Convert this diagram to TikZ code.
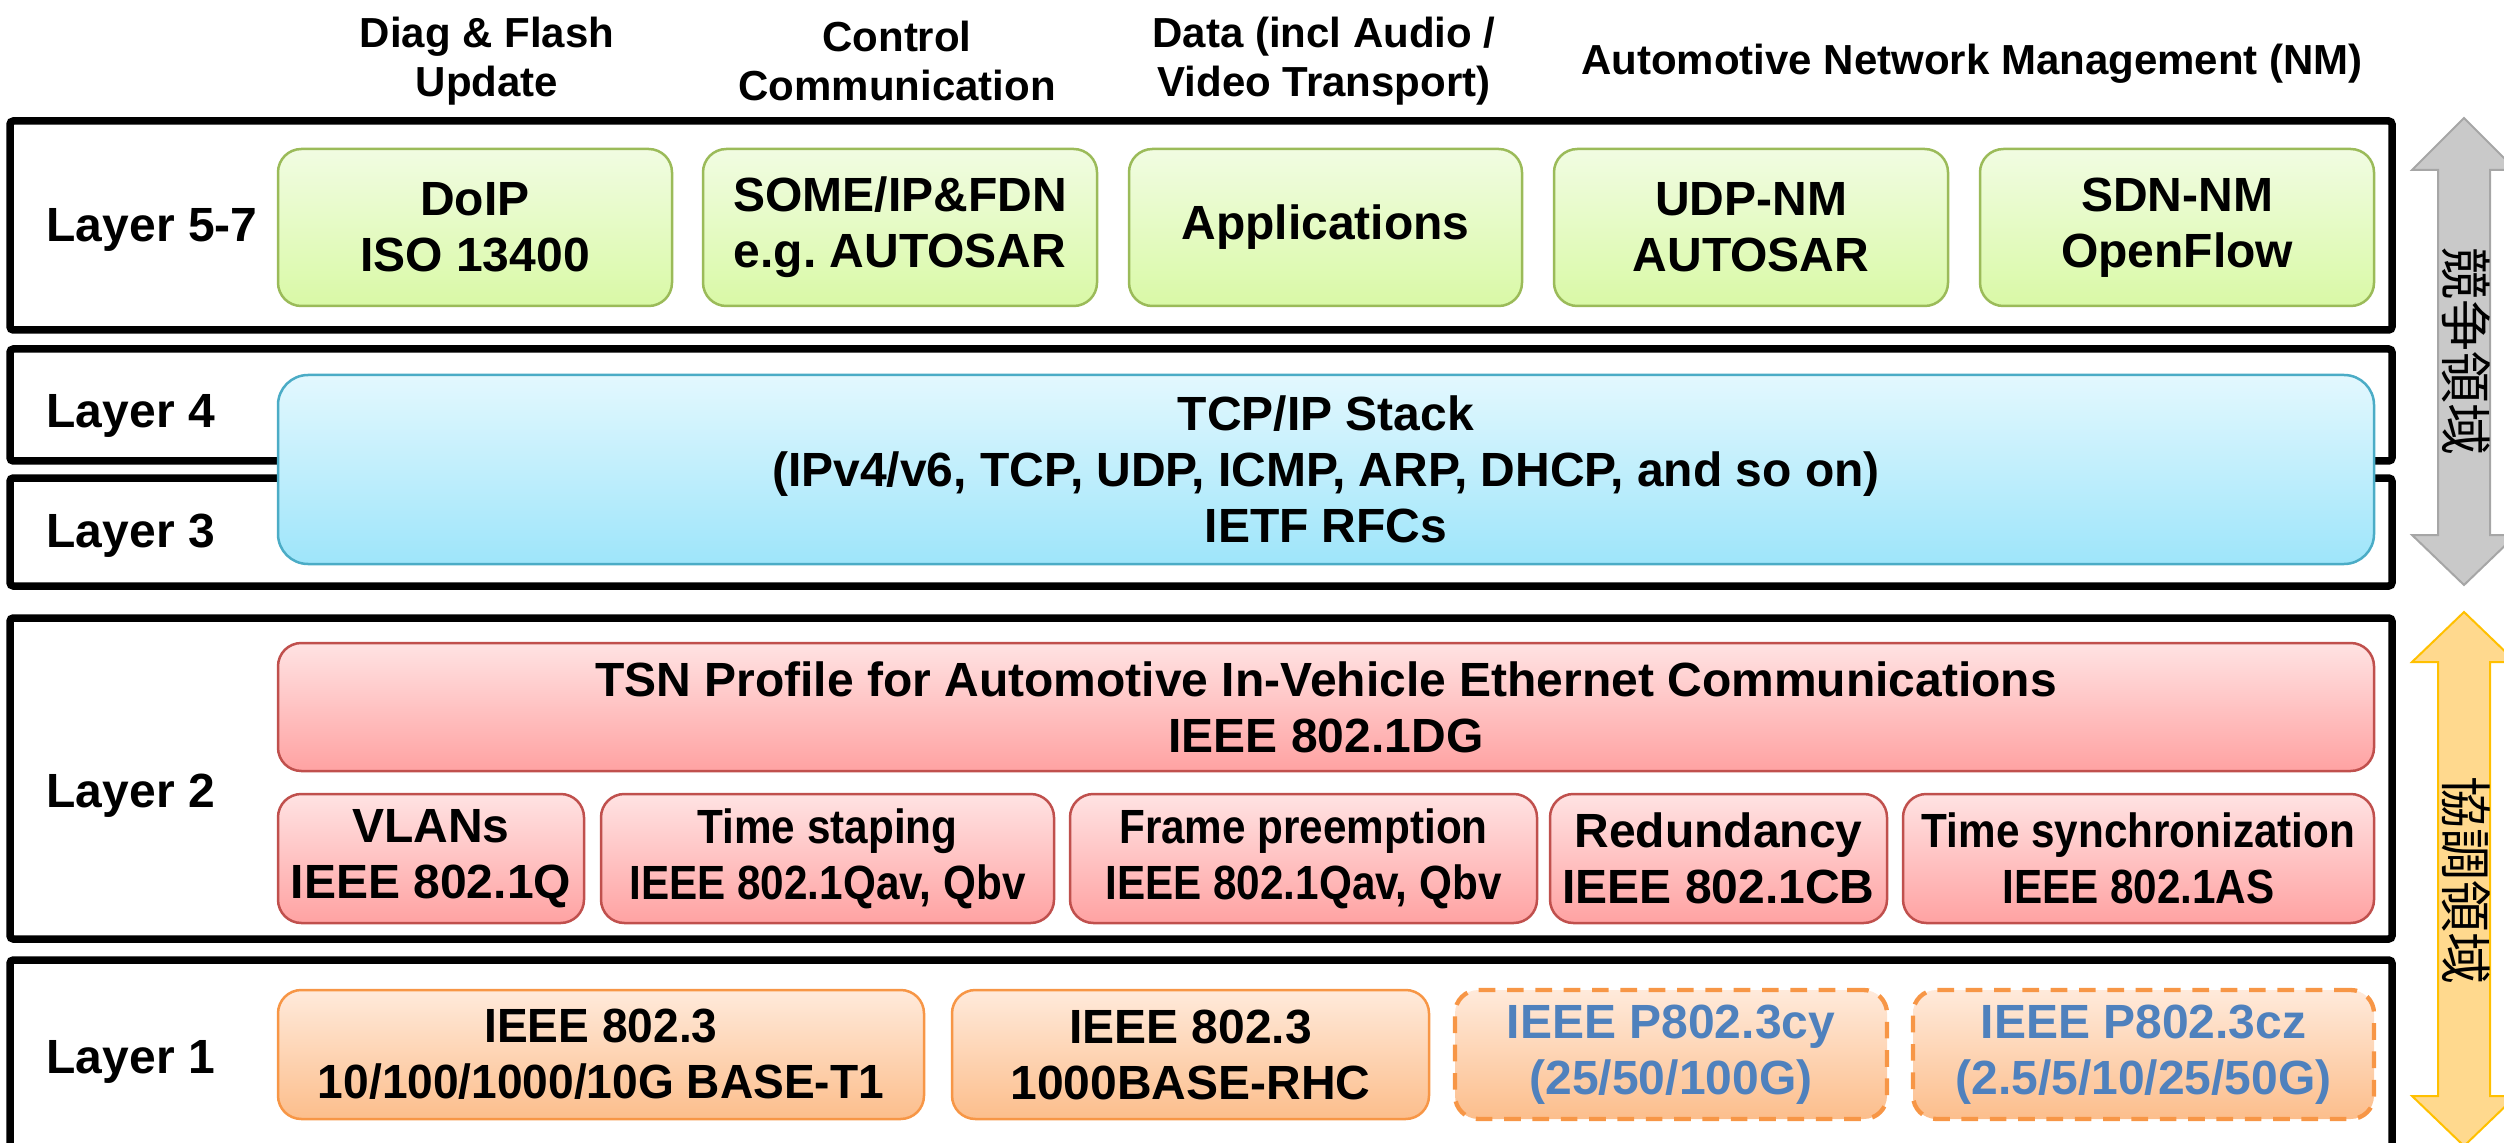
\documentclass[tikz,border=0pt]{standalone}
\usepackage{fontspec}
\setmainfont{Liberation Sans}
\newfontfamily\narrowfont{Liberation Sans}[FakeStretch=0.88]
\newfontfamily\slimfont{Liberation Sans}[FakeStretch=0.96]
\newfontfamily\cjkfont{Noto Sans CJK JP}

\definecolor{grnT}{HTML}{F1FCE2}
\definecolor{grnB}{HTML}{D9F9A6}
\definecolor{grnL}{HTML}{9BBB59}
\definecolor{bluT}{HTML}{E3F8FE}
\definecolor{bluB}{HTML}{9EE5FA}
\definecolor{bluL}{HTML}{4BACC6}
\definecolor{redT}{HTML}{FFE3E3}
\definecolor{redB}{HTML}{FFA2A2}
\definecolor{redL}{HTML}{C0504D}
\definecolor{orT}{HTML}{FFEADB}
\definecolor{orB}{HTML}{FCBE8C}
\definecolor{orL}{HTML}{F79646}
\definecolor{txtBlue}{HTML}{4F81BD}
\definecolor{grayF}{HTML}{C9C9C9}
\definecolor{grayL}{HTML}{A6A6A6}
\definecolor{ambF}{HTML}{FFD98E}
\definecolor{ambL}{HTML}{FFC000}

% a node spanning the rectangle (x1,y1)-(x2,y2), given in pixel units
% #1 style, #2 name, #3 x1, #4 y1, #5 x2, #6 y2, #7 text
\newcommand\blk[7]{%
  \node[#1, minimum width={(#5-#3)*0.3pt}, minimum height={(#6-#4)*0.3pt}]
    (#2) at ({(#3+#5)/2},{(#4+#6)/2+2}) {#7};}

\begin{document}
\begin{tikzpicture}[x=0.3pt,y=-0.3pt,
  layerbox/.style={draw=black, line width=2.25pt, rounded corners=1pt},
  lbl/.style={font=\fontsize{14.4}{16.8}\selectfont\bfseries, anchor=west, inner sep=0pt},
  hdr/.style={font=\fontsize{12.6}{14.7}\selectfont\bfseries, align=center, inner sep=0pt},
  item/.style={rounded corners=7pt, line width=0.75pt, align=center, inner sep=0pt,
    font=\fontsize{14.4}{16.8}\selectfont\bfseries},
  narrow/.style={font=\narrowfont\fontsize{14.4}{16.8}\selectfont\bfseries},
  slim/.style={font=\slimfont\fontsize{14.4}{16.8}\selectfont\bfseries},
  greenbox/.style={item, draw=grnL, top color=grnT, bottom color=grnB},
  bluebox/.style={item, rounded corners=9pt, draw=bluL, top color=bluT, bottom color=bluB},
  redbox/.style={item, draw=redL, top color=redT, bottom color=redB},
  orangebox/.style={item, draw=orL, top color=orT, bottom color=orB},
  planbox/.style={item, draw=orL, top color=orT, bottom color=orB, line width=1.3pt,
    dash pattern=on 5pt off 3.5pt, text=txtBlue},
  sidetext/.style={font=\cjkfont\fontsize{15.6}{15.6}\selectfont, rotate=-90, inner sep=0pt}
]
\useasboundingbox (0,0) rectangle (2504,1143);
\clip (0,0) rectangle (2504,1143);

% column headings
\node[hdr] (hdiag) at (487,61) {Diag \& Flash\\Update};
\node[hdr] (hctrl) at (897,61) {Control\\Communication};
\node[hdr] (hdata) at (1324,61) {Data (incl Audio /\\Video Transport)};
\node[hdr] (hnm) at (1972,64) {Automotive Network Management (NM)};

% layer frames
\draw[layerbox] (10,121) rectangle (2392,330);
\draw[layerbox] (10,349) rectangle (2392,461);
\draw[layerbox] (10,478) rectangle (2392,586);
\draw[layerbox] (10,618) rectangle (2392,939);
\draw[layerbox] (10,960) rectangle (2392,1200);

% layer labels
\node[lbl] (l57) at (46,230) {Layer 5-7};
\node[lbl] (l4) at (46,416) {Layer 4};
\node[lbl] (l3) at (46,536) {Layer 3};
\node[lbl] (l2) at (46,796) {Layer 2};
\node[lbl] (l1) at (46,1062) {Layer 1};

% layers 5-7
\blk{greenbox}{doip}{278}{147}{672}{304}{DoIP\\ISO 13400}
\blk{greenbox}{someip}{703}{147}{1097}{304}{SOME/IP\&FDN\\e.g.\ AUTOSAR}
\blk{greenbox}{apps}{1129}{147}{1522}{304}{Applications}
\blk{greenbox}{udpnm}{1554}{147}{1948}{304}{UDP-NM\\AUTOSAR}
\blk{greenbox}{sdnnm}{1980}{147}{2374}{304}{SDN-NM\\OpenFlow}

% layers 3-4
\blk{bluebox}{tcpip}{278}{373}{2374}{562}%
  {TCP/IP Stack\\(IPv4/v6, TCP, UDP, ICMP, ARP, DHCP, and so on)\\IETF RFCs}

% layer 2
\blk{redbox}{tsn}{278}{641}{2374}{769}%
  {TSN Profile for Automotive In-Vehicle Ethernet Communications\\IEEE 802.1DG}
\blk{redbox}{vlan}{278}{792}{584}{921}{VLANs\\IEEE 802.1Q}
\blk{redbox, narrow}{shape}{601}{792}{1054}{921}{Time staping\\IEEE 802.1Qav, Qbv}
\blk{redbox, narrow}{preempt}{1070}{792}{1537}{921}{Frame preemption\\IEEE 802.1Qav, Qbv}
\blk{redbox}{redund}{1550}{792}{1887}{921}{Redundancy\\IEEE 802.1CB}
\blk{redbox, narrow}{tsync}{1903}{792}{2374}{921}{Time synchronization\\IEEE 802.1AS}

% layer 1
\blk{orangebox, slim}{bt1}{278}{988}{924}{1117}{IEEE 802.3\\10/100/1000/10G BASE-T1}
\blk{orangebox}{rhc}{952}{988}{1429}{1117}{IEEE 802.3\\1000BASE-RHC}
\blk{planbox}{cy}{1455}{988}{1887}{1117}{IEEE P802.3cy\\(25/50/100G)}
\blk{planbox}{cz}{1913}{988}{2374}{1117}{IEEE P802.3cz\\(2.5/5/10/25/50G)}

% side arrows
\draw[fill=grayF, draw=grayL, line width=0.6pt]
  (2464,118) -- (2516,170) -- (2490,170) -- (2490,535) -- (2516,535) -- (2464,585)
  -- (2412,535) -- (2438,535) -- (2438,170) -- (2412,170) -- cycle;
\node[sidetext] (compete) at (2466,352) {競争領域};
\draw[fill=ambF, draw=ambL, line width=0.6pt]
  (2464,612) -- (2516,662) -- (2490,662) -- (2490,1096) -- (2516,1096) -- (2464,1146)
  -- (2412,1096) -- (2438,1096) -- (2438,662) -- (2412,662) -- cycle;
\node[sidetext] (coop) at (2466,880) {協調領域};
\end{tikzpicture}
\end{document}
